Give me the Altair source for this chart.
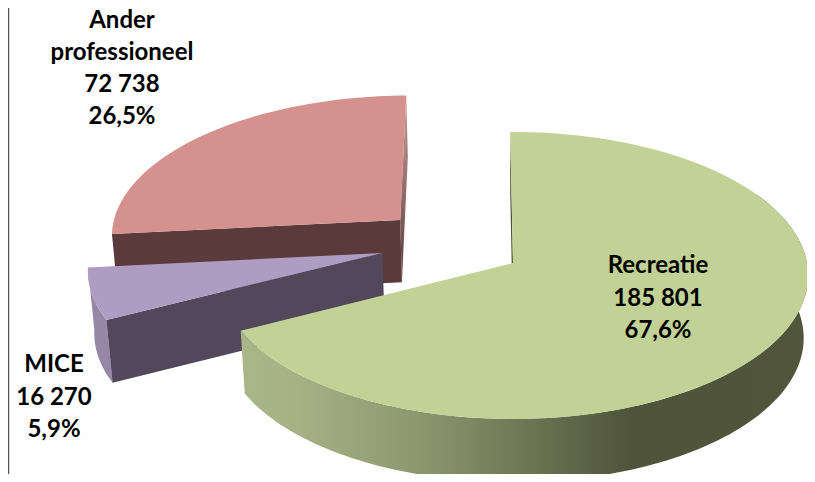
import math
import altair as alt

# Values
categories = ["Recreatie", "MICE", "Ander professioneel"]
visitors = [185801, 16270, 72738]
percent_labels = ["67,6%", "5,9%", "26,5%"]
count_labels = ["185 801", "16 270", "72 738"]
label_lines = [["Recreatie"], ["MICE"], ["Ander", "professioneel"]]

# Pie view: rotation, tilt, and how far each slice is pulled out (in pie radii)
FIRST_ANGLE = -0.6
PULL = {"Recreatie": (0.0, 0.0), "MICE": (-0.447, 0.071), "Ander professioneel": (-0.394, 0.31)}
CX, CY, RX, RY, TILT = 513.0, 263.0, 294.0, 142.4, 0.087
DEPTH, DEPTH_TILT, SHRINK = 62.5, 3.0, 0.985


def top(u, v):
    w = 1 + TILT * v
    return (CX + RX * u / w, CY - RY * v / w)


def bottom(u, v):
    x, y = top(u, v)
    return (CX + (x - CX) * SHRINK, CY + (y - CY) * SHRINK + DEPTH - DEPTH_TILT * v)


def rim(pull, a0, a1, fn):
    n = max(2, int(abs(a1 - a0) / 1.5))
    pts = []
    for i in range(n + 1):
        t = math.radians(a0 + (a1 - a0) * i / n)
        pts.append(fn(pull[0] + math.sin(t), pull[1] + math.cos(t)))
    return pts


def layer(points, fill):
    ring = [[x, y] for x, y in points] + [[points[0][0], points[0][1]]]
    feature = {"type": "Feature", "properties": {},
               "geometry": {"type": "Polygon", "coordinates": [ring]}}
    data = alt.InlineData(values={"type": "FeatureCollection", "features": [feature]},
                          format=alt.DataFormat(property="features", type="json"))
    return alt.Chart(data).mark_geoshape(fill=fill, stroke=None, strokeWidth=0)


def grad(stops, x2=1, y2=0):
    return alt.Gradient(gradient="linear", x1=0, y1=0, x2=x2, y2=y2,
                        stops=[alt.GradientStop(offset=o, color=c) for o, c in stops])


total = sum(visitors)
spans = {}
angle = FIRST_ANGLE
for name, val in zip(categories, visitors):
    sweep = 360.0 * val / total
    spans[name] = (angle, angle + sweep)
    angle += sweep

layers = []

# Ander professioneel
p = PULL["Ander professioneel"]
a0, a1 = spans["Ander professioneel"]
apex_t, apex_b = top(*p), bottom(*p)
arc = rim(p, a0, a1, top)
layers.append(layer([arc[-1], bottom(p[0] + math.sin(math.radians(a1)), p[1] + math.cos(math.radians(a1))), apex_b, apex_t],
                    grad([(0, "#c79f9d"), (0.55, "#8f6766"), (1, "#5a3a3b")], x2=0, y2=1)))
layers.append(layer([apex_t, apex_b, bottom(p[0] + math.sin(math.radians(a0)), p[1] + math.cos(math.radians(a0))), arc[0]], "#5a3a3b"))
layers.append(layer([apex_t] + arc, "#d5918e"))

# MICE
p = PULL["MICE"]
a0, a1 = spans["MICE"]
apex_t, apex_b = top(*p), bottom(*p)
arc = rim(p, a0, a1, top)
arc_b = rim(p, a0, a1, bottom)
layers.append(layer(arc + arc_b[::-1], "#9687a7"))
layers.append(layer([apex_t, apex_b, arc_b[0], arc[0]], "#52475b"))
layers.append(layer([apex_t] + arc, "#af9cc3"))

# Recreatie
p = PULL["Recreatie"]
a0, a1 = spans["Recreatie"]
apex_t, apex_b = top(*p), bottom(*p)
arc = rim(p, a0, a1, top)
s0 = rim(p, a0, a0 + 0.1, bottom)[0]
layers.append(layer([arc[0], s0, apex_b, apex_t], "#4f5339"))
arc_vis = rim(p, 60.0, a1, top)
arc_vis_b = rim(p, 60.0, a1, bottom)
layers.append(layer(arc_vis + arc_vis_b[::-1],
                    grad([(0, "#a9b688"), (0.1, "#a6b284"), (0.33, "#8a956c"),
                          (0.69, "#4f533a"), (1, "#51553c")])))
layers.append(layer([apex_t] + arc, "#c2d297"))

# Left frame line
frame = alt.Chart(alt.Data(values=[{"k": 1}])).mark_rule(color="#555555", strokeWidth=1.5).encode(
    x=alt.value(0.5), y=alt.value(0), y2=alt.value(466))
layers.append(frame)

# Labels
label_x = {"Recreatie": 658, "MICE": 54, "Ander professioneel": 122}
label_y = {"Recreatie": 273, "MICE": 372, "Ander professioneel": 28}
pitch = {"Recreatie": 32.7, "MICE": 32.7, "Ander professioneel": 32.0}
for name, lines, cnt, pct in zip(categories, label_lines, count_labels, percent_labels):
    for i, line in enumerate(lines + [cnt, pct]):
        layers.append(
            alt.Chart(alt.Data(values=[{"t": line}])).mark_text(
                font="Lato", fontWeight="bold", fontSize=24, color="#000000",
                align="center", baseline="alphabetic"
            ).encode(
                text="t:N",
                x=alt.value(label_x[name] - 8),
                y=alt.value(label_y[name] - 8 + pitch[name] * i),
            )
        )

chart = alt.layer(*layers).project(type="identity", scale=1, translate=[-8, -8]).properties(
    width=799, height=466, padding=0, autosize=alt.AutoSizeParams(type="none"), background="#ffffff"
).configure_view(stroke=None)

chart.save("out.html", embed_options={"renderer": "svg", "actions": False})
